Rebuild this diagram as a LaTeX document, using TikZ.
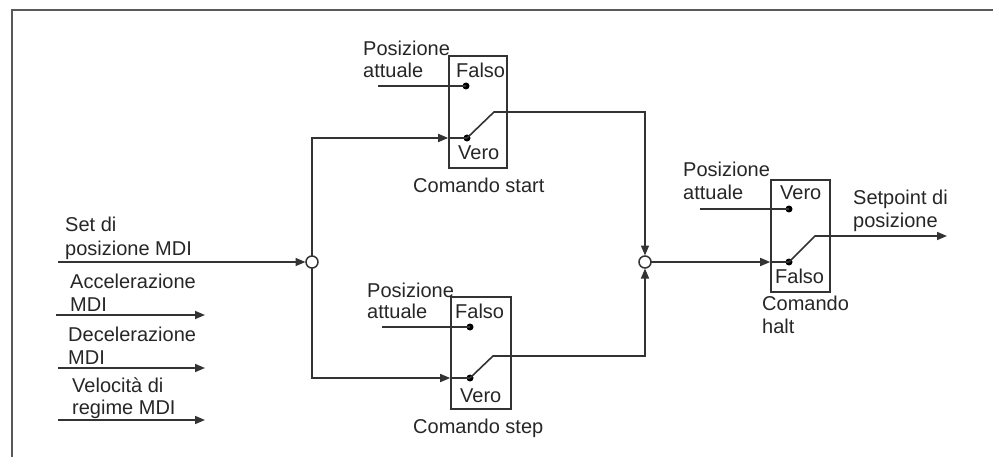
\documentclass[tikz,border=0pt]{standalone}
\usepackage{fontspec}
\setmainfont{Liberation Sans}
\usetikzlibrary{arrows.meta}
\begin{document}
\begin{tikzpicture}[x=1pt,y=-1pt,
  wire/.style={draw=black!80, line width=1.6pt},
  arr/.style={wire, -{Triangle[length=10pt,width=8pt]}},
  sbox/.style={draw=black!80, line width=1.6pt, rectangle, inner sep=0pt},
  dotn/.style={circle, fill=black, inner sep=0pt, minimum size=7pt},
  junc/.style={circle, draw=black!80, fill=white, line width=1.5pt, inner sep=0pt, minimum size=12pt},
  lbl/.style={anchor=base west, inner sep=0pt, font=\fontsize{20}{22}\selectfont, text=black!85},
]
\useasboundingbox (0,0) rectangle (993,457);

% outer frame
\draw[line width=1.6pt, draw=black!65] (12,457) -- (12,10) -- (993,10);

% switch boxes
\node[sbox, minimum width=58pt, minimum height=112pt] (boxA) at (478,112) {};
\node[sbox, minimum width=60pt, minimum height=112pt] (boxB) at (481,353) {};
\node[sbox, minimum width=59pt, minimum height=112pt] (boxC) at (800.5,236) {};

% switch contacts
\node[dotn] (fA) at (466,86) {};
\node[dotn] (vA) at (467,138) {};
\node[dotn] (fB) at (470,327) {};
\node[dotn] (vB) at (470,378) {};
\node[dotn] (vC) at (789,209) {};
\node[dotn] (fC) at (789,262) {};

% switch arm ends and free line ends
\coordinate (kA) at (494,112);
\coordinate (kB) at (493,356);
\coordinate (kC) at (815,236);
\coordinate (outC) at (947,236);
\coordinate (pA) at (378,86);
\coordinate (pB) at (382,327);
\coordinate (pC) at (700,209);
\coordinate (inSet) at (58,262);
\coordinate (inAcc) at (56,315);
\coordinate (outAcc) at (205,315);
\coordinate (inDec) at (58,368);
\coordinate (outDec) at (205,368);
\coordinate (inVel) at (58,420);
\coordinate (outVel) at (205,420);

% junctions
\coordinate (jLc) at (312,262);
\coordinate (jRc) at (645,262);

% wiring
\draw[arr] (inSet) -- (305.5,262);
\draw[arr] (jLc) ++(0,-6) |- (boxA.west |- vA);
\draw[wire] (boxA.west |- vA) -- (vA.center);
\draw[arr] (jLc) ++(0,6) |- (boxB.west |- vB);
\draw[wire] (boxB.west |- vB) -- (vB.center);

\draw[wire] (pA) -- (fA.center);
\draw[wire] (pB) -- (fB.center);
\draw[wire] (pC) -- (vC.center);

\draw[arr] (vA.center) -- (kA) -| (645,255.5);
\draw[arr] (vB.center) -- (kB) -| (645,268.5);

\draw[arr] (jRc) -- (boxC.west |- fC);
\draw[wire] (boxC.west |- fC) -- (fC.center);
\draw[arr] (fC.center) -- (kC) -- (outC);

\draw[arr] (inAcc) -- (outAcc);
\draw[arr] (inDec) -- (outDec);
\draw[arr] (inVel) -- (outVel);

\node[junc] (jL) at (jLc) {};
\node[junc] (jR) at (jRc) {};

% labels, top switch
\node[lbl] (tA1) at (363,56) {Posizione};
\node[lbl] (tA2) at (363,78) {attuale};
\node[lbl] (tA3) at (456,78) {Falso};
\node[lbl] (tA4) at (458,160) {Vero};
\node[lbl] (tA5) at (413,193) {Comando start};

% labels, bottom switch
\node[lbl] (tB1) at (367,297) {Posizione};
\node[lbl] (tB2) at (367,318) {attuale};
\node[lbl] (tB3) at (455,318) {Falso};
\node[lbl] (tB4) at (460,402) {Vero};
\node[lbl] (tB5) at (413,433) {Comando step};

% labels, halt switch
\node[lbl] (tC1) at (683,177) {Posizione};
\node[lbl] (tC2) at (683,200) {attuale};
\node[lbl] (tC3) at (780,200) {Vero};
\node[lbl] (tC4) at (775,283) {Falso};
\node[lbl] (tC5) at (762,310) {Comando};
\node[lbl] (tC6) at (762,333) {halt};
\node[lbl] (tC7) at (853,205) {Setpoint di};
\node[lbl] (tC8) at (853,228) {posizione};

% input labels
\node[lbl] (tI1) at (65,232) {Set di};
\node[lbl] (tI2) at (65,255) {posizione MDI};
\node[lbl] (tI3) at (70,288) {Accelerazione};
\node[lbl] (tI4) at (70,311) {MDI};
\node[lbl] (tI5) at (68,341) {Decelerazione};
\node[lbl] (tI6) at (68,364) {MDI};
\node[lbl] (tI7) at (72,392) {Velocità di};
\node[lbl] (tI8) at (72,414) {regime MDI};
\end{tikzpicture}
\end{document}
